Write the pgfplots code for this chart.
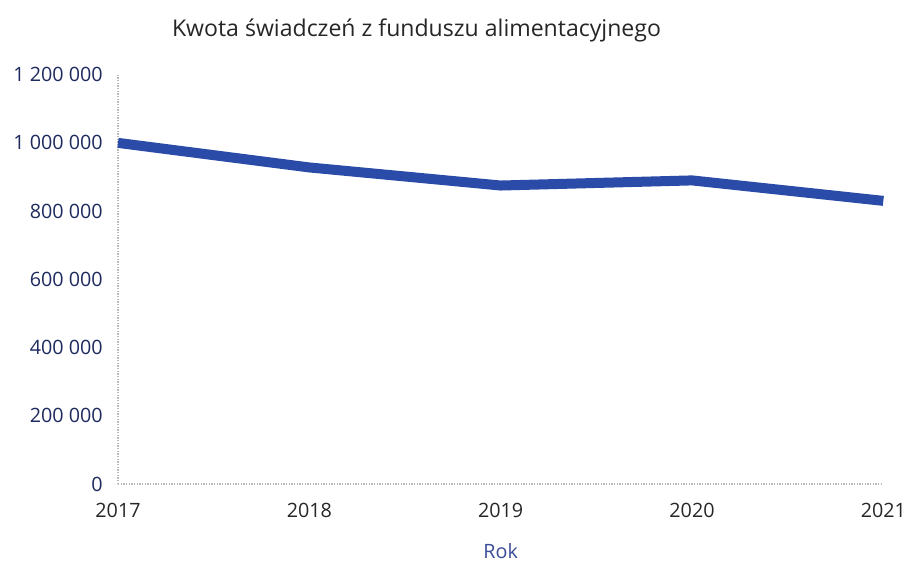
\documentclass[border=0pt]{standalone}
\usepackage{pgfplots}
\pgfplotsset{compat=1.18}
\usepackage{fontspec}
\setmainfont{Open Sans}
\definecolor{linecol}{HTML}{2A4BA8}
\definecolor{navy}{HTML}{1E2A5E}
\definecolor{labblue}{HTML}{3A4C96}
\definecolor{axgray}{HTML}{B8B8B8}
\begin{document}
\begin{tikzpicture}[x=1pt,y=1pt]
\useasboundingbox (-88.5,-62.25) rectangle (594,363);
\begin{axis}[
  at={(0,0)}, anchor=south west,
  scale only axis, width=574pt, height=307pt,
  xmin=2017, xmax=2021, ymin=0, ymax=1200000,
  xtick={2017,2018,2019,2020,2021},
  xticklabels={2017,2018,2019,2020,2021},
  ytick={0,200000,400000,600000,800000,1000000,1200000},
  yticklabels={0,200 000,400 000,600 000,800 000,1 000 000,1 200 000},
  scaled y ticks=false,
  axis x line*=bottom, axis y line*=left,
  x axis line style={axgray, densely dotted, line width=1pt, -},
  y axis line style={axgray, densely dotted, line width=1pt, -},
  major tick length=0pt,
  tick style={draw=none},
  yticklabel style={font=\fontsize{14.8}{16}\selectfont, text=navy, xshift=-8pt},
  xticklabel style={font=\fontsize{14.8}{16}\selectfont, text=black!85, yshift=-11pt},
  xlabel={Rok},
  xlabel style={font=\fontsize{14.8}{16}\selectfont, text=labblue, yshift=-12pt},
  title={Kwota świadczeń z funduszu alimentacyjnego},
  title style={font=\fontsize{17.3}{20}\selectfont, text=black!85, at={(0.39,1)}, yshift=15pt},
  clip=false,
]
\addplot[color=linecol, line width=7.5pt, line join=round] coordinates {
  (2017,1000000) (2018,928000) (2019,875000) (2020,890000) (2021,830000)
};
\end{axis}
\end{tikzpicture}
\end{document}
